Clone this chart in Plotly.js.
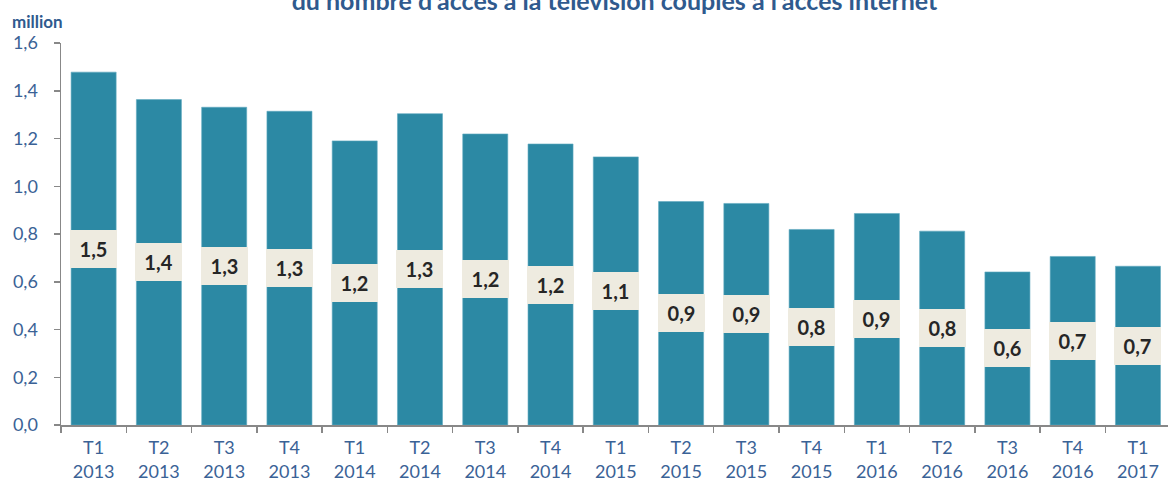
<!DOCTYPE html>
<html>
<head>
<meta charset="utf-8">
<script src="https://cdn.plot.ly/plotly-3.0.1.min.js"></script>
<style>html,body{margin:0;padding:0;background:#fff;}#chart{width:1168px;height:489px;}</style>
</head>
<body>
<div id="chart"></div>
<script>
// Data (millions)
const quarters = ["T1","T2","T3","T4","T1","T2","T3","T4","T1","T2","T3","T4","T1","T2","T3","T4","T1"];
const years = ["2013","2013","2013","2013","2014","2014","2014","2014","2015","2015","2015","2015","2016","2016","2016","2016","2017"];
const values = [1.478,1.363,1.331,1.314,1.190,1.304,1.219,1.177,1.123,0.936,0.928,0.819,0.886,0.812,0.641,0.706,0.665];
const titleText = "du nombre d'accès à la télévision couplés à l'accès internet";
const unitText = "million";

const cats = quarters.map((q,i)=>q+"<br>"+years[i]);
const labelFont = "Lato, 'Open Sans', sans-serif";
const blue = "#3A6296";

const trace = {
  type: "bar",
  x: cats,
  y: values,
  marker: {color: "#2C89A4", line: {color: "#5FA9C0", width: 0.6}},
  hoverinfo: "skip"
};

const annotations = values.map((v,i)=>({
  x: cats[i], y: v/2, xref: "x", yref: "y",
  text: v.toFixed(1).replace(".", ","),
  showarrow: false,
  bgcolor: "#EEEBE0",
  width: 47, height: 38, borderpad: 0, borderwidth: 0,
  font: {family: labelFont, size: 20, color: "#262626", weight: "bold"}
}));
annotations.push({
  xref: "paper", yref: "paper", x: 0, y: 1, xanchor: "center", yanchor: "middle",
  xshift: -24, yshift: 22, showarrow: false, text: "<b>" + unitText + "</b>",
  font: {family: labelFont, size: 17, color: "#2F5A8E"}
});

const layout = {
  width: 1168, height: 489,
  margin: {l: 61, r: 0, t: 43, b: 64, pad: 0},
  paper_bgcolor: "#fff", plot_bgcolor: "#fff",
  separators: ", ",
  showlegend: false,
  bargap: 0.31,
  title: {
    text: "<b>" + titleText + "</b>",
    x: 0.5, xref: "paper", y: 0.997, yref: "container", yanchor: "middle",
    font: {family: labelFont, size: 25, color: "#2F5A8E"}
  },
  xaxis: {
    type: "category",
    range: [-0.5, 16.46],
    showline: true, linecolor: "#888", linewidth: 1.5,
    ticks: "outside", tickson: "boundaries", ticklen: 6, tickcolor: "#888", tickwidth: 1.5,
    ticklabelstandoff: 6,
    tickfont: {family: labelFont, size: 18, color: blue},
    showgrid: false, zeroline: false, fixedrange: true
  },
  yaxis: {
    range: [0, 1.6], dtick: 0.2, tickformat: ".1f",
    showline: true, linecolor: "#888", linewidth: 1.5,
    ticks: "outside", ticklen: 6, tickcolor: "#888", tickwidth: 1.5,
    ticklabelstandoff: 12,
    tickfont: {family: labelFont, size: 18, color: blue},
    showgrid: false, zeroline: false, fixedrange: true
  },
  annotations: annotations
};

Plotly.newPlot("chart", [trace], layout, {displayModeBar: false, staticPlot: true});
</script>
</body>
</html>
